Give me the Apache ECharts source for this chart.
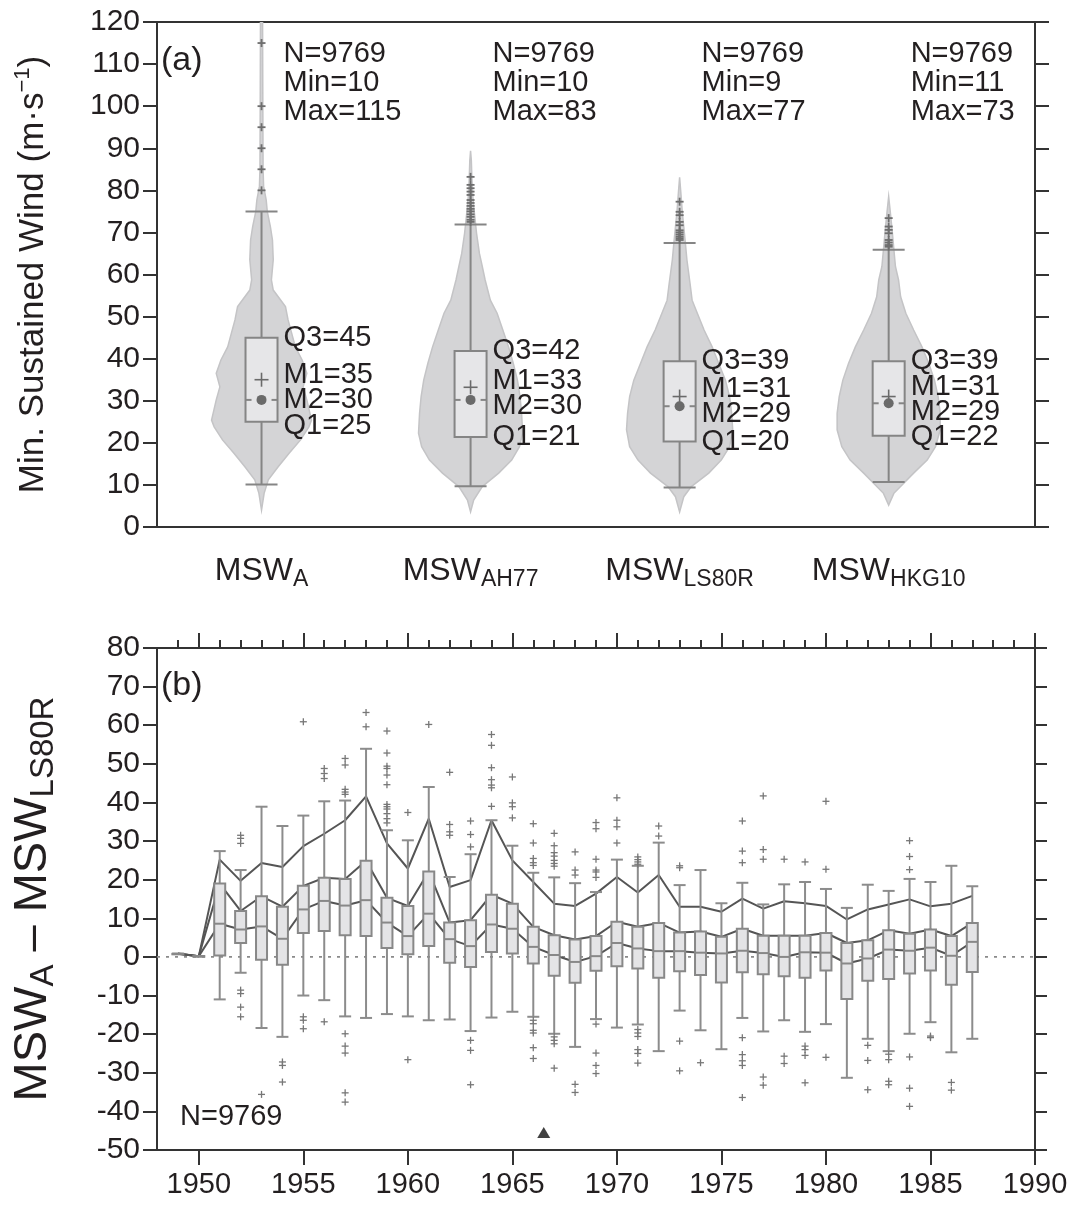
<!DOCTYPE html>
<html><head><meta charset="utf-8">
<script src="https://cdn.jsdelivr.net/npm/echarts@6/dist/echarts.min.js"></script>
<style>html,body{margin:0;padding:0;background:#fff}#c{width:1076px;height:1209px}</style>
</head><body><div id="c"></div>
<script>
const FONT = '"Liberation Sans", Arial, Helvetica, sans-serif';
const TXT = '#231f20';

// ---------- Panel (a) data ----------
const groupSubs = ['A', 'AH77', 'LS80R', 'HKG10'];
const nObs = [9769, 9769, 9769, 9769];
const minVal = [10.1, 9.7, 9.4, 10.7];
const maxVal = [115, 83.2, 77.3, 73.4];
const q1A = [25, 21.4, 20.3, 21.7];
const medianA = [30.2, 30.2, 28.7, 29.4];
const q3A = [45, 41.8, 39.4, 39.4];
const meanA = [35, 33.2, 31.0, 31.0];
const whiskHighA = [75, 71.9, 67.5, 65.9];
const outliersA_MSWA = [115, 100, 95, 90, 85, 80];
const outliersA_AH77 = [83.2, 81.3, 80.5, 79.7, 78.9, 77.7, 77.0, 76.3, 75.6, 75.0, 74.3, 73.7, 73.0, 72.5];
const outliersA_LS80R = [77.3, 74.9, 74.1, 72.5, 71.7, 70.5, 70.0, 69.5, 69.0, 68.6, 68.2];
const outliersA_HKG10 = [73.4, 71.4, 70.6, 69.8, 68.2, 67.6, 67.0, 66.6];
// violin densities: [wind, relative density]
const densMSWA = [[122,0.02],[100,0.025],[85,0.03],[81,0.04],[77.7,0.09],[75,0.11],[71.4,0.17],[68.2,0.21],[63.5,0.225],[58.7,0.19],[56.3,0.225],[52.4,0.46],[49.2,0.51],[46.0,0.58],[42.8,0.65],[39.7,0.78],[36.5,0.87],[33.3,0.80],[30.2,0.87],[27.0,0.93],[25.4,0.96],[23.8,0.91],[20.7,0.75],[17.5,0.53],[14.3,0.32],[11.2,0.13],[8.0,0.05],[4.0,0]];
const densAH77 = [[89.4,0],[87,0.015],[83,0.025],[79,0.04],[75,0.07],[69.8,0.115],[65,0.17],[61.9,0.225],[58.7,0.28],[53.9,0.38],[50.8,0.51],[46.8,0.62],[42.8,0.73],[38.9,0.82],[34.9,0.90],[31,0.95],[27.0,0.98],[22.3,1.0],[19.1,0.94],[15.9,0.79],[12.8,0.54],[9.6,0.225],[6.4,0.06],[3.6,0]];
const densLS80R = [[83.1,0],[80,0.02],[75,0.05],[70,0.09],[67.5,0.11],[63.5,0.14],[57.9,0.2],[53.9,0.24],[50.8,0.34],[46.8,0.47],[42.8,0.625],[38.9,0.75],[34.9,0.88],[31.0,0.96],[27.0,1.0],[23.1,1.02],[19.1,0.96],[15.9,0.80],[12.8,0.56],[9.6,0.225],[7.2,0.08],[3.6,0]];
const densHKG10 = [[78.5,0],[75,0.03],[70,0.07],[65.9,0.1],[61.9,0.13],[58.7,0.19],[54.7,0.23],[50.8,0.33],[46.8,0.48],[42.8,0.64],[38.9,0.77],[34.9,0.88],[31.0,0.95],[27.0,0.99],[23.1,0.99],[19.1,0.9],[15.9,0.74],[12.8,0.48],[10.4,0.29],[8.0,0.1],[5.2,0]];
const yTicksA = [0, 120, 10];

// ---------- Panel (b) data ----------
const years = [1949,1950,1951,1952,1953,1954,1955,1956,1957,1958,1959,1960,1961,1962,1963,1964,1965,1966,1967,1968,1969,1970,1971,1972,1973,1974,1975,1976,1977,1978,1979,1980,1981,1982,1983,1984,1985,1986,1987];
const wLowB = [0.8,0.2,-11.0,-4.1,-18.4,-20.7,-10.0,-11.2,-15.4,-15.8,-14.8,-15.4,-16.4,-16.2,-19.2,-15.7,-14.2,-15.5,-19.9,-23.3,-16.1,-18.3,-17.5,-24.4,-13.9,-19.0,-23.9,-15.8,-19.3,-16.4,-19.4,-17.4,-31.3,-21.2,-24.4,-19.9,-16.9,-24.7,-21.2];
const q1B = [0.8,0.2,0.4,3.6,-0.7,-2.0,6.2,6.7,5.6,5.4,2.3,0.7,2.8,-1.5,-2.6,1.3,0.9,-1.7,-4.9,-6.7,-3.6,-2.4,-3.0,-5.4,-3.7,-4.7,-6.6,-4.0,-4.5,-5.0,-5.4,-3.5,-10.9,-6.2,-5.7,-4.3,-3.5,-7.2,-3.9];
const medB = [0.8,0.2,8.6,7.1,7.9,4.7,12.3,14.5,13.3,14.7,8.9,5.4,11.2,4.6,2.8,8.4,7.3,2.6,0.5,-1.3,0.2,3.6,2.2,1.5,1.5,1.1,0.9,1.6,1.0,0.0,1.2,1.1,-1.7,-0.4,1.9,1.6,2.4,0.3,3.9];
const q3B = [0.8,0.2,19.0,11.9,15.7,13.0,18.4,20.5,20.2,24.9,15.3,13.2,22.1,8.9,9.5,16.1,13.8,7.8,5.6,4.5,5.4,9.1,7.8,8.8,6.3,6.6,5.2,7.3,5.5,5.5,5.5,6.2,3.6,4.3,6.9,6.0,7.1,5.4,8.8];
const wHighB = [0.8,0.2,27.4,22.5,38.9,33.9,36.6,40.3,40.5,53.9,32.8,30.2,44.0,20.7,26.6,35.4,28.8,21.8,20.6,19.1,16.8,25.2,23.6,29.6,18.6,22.5,13.9,19.2,13.6,18.8,19.4,17.6,12.7,18.7,17.1,20.2,19.4,23.6,18.3];
const topLineB = [0.9,0.2,25.2,19.7,24.3,23.3,28.7,31.9,35.4,41.6,29.4,22.9,35.8,18.1,19.9,35.4,25.0,19.4,13.8,13.2,16.4,20.7,16.7,21.2,13.0,13.0,11.7,15.1,12.5,14.4,13.9,13.2,9.7,12.3,13.6,14.9,13.1,13.8,15.8];
const outliersB = [
 [1952,31.5],[1952,30.7],[1952,29.4],[1952,-8.6],[1952,-9.5],[1952,-13.0],[1952,-15.5],
 [1953,-35.6],
 [1954,-27.2],[1954,-28.1],[1954,-32.4],
 [1955,60.9],[1955,-15.5],[1955,-16.4],[1955,-18.6],
 [1956,48.8],[1956,47.5],[1956,46.2],[1956,-16.8],
 [1957,51.4],[1957,49.7],[1957,43.4],[1957,42.7],[1957,42.1],[1957,-19.9],[1957,-23.1],[1957,-24.9],[1957,-35.2],[1957,-37.6],
 [1958,63.3],[1958,59.6],
 [1959,58.5],[1959,52.8],[1959,49.4],[1959,48.8],[1959,47.1],[1959,44.6],[1959,39.5],[1959,38.9],[1959,38.3],[1959,37.1],[1959,35.8],[1959,34.7],
 [1960,37.4],[1960,-26.6],
 [1961,60.2],
 [1962,47.8],[1962,34.3],[1962,32.4],[1962,31.5],
 [1963,35.2],[1963,31.7],[1963,28.5],[1963,-21.6],[1963,-24.2],[1963,-33.1],
 [1964,57.6],[1964,54.8],[1964,49.0],[1964,45.9],[1964,44.5],[1964,43.8],[1964,39.0],
 [1965,46.6],[1965,39.9],[1965,38.9],[1965,36.0],
 [1966,34.5],[1966,29.5],[1966,25.5],[1966,24.4],[1966,23.7],[1966,-16.4],[1966,-17.3],[1966,-19.0],[1966,-19.7],[1966,-23.5],[1966,-26.3],
 [1967,32.0],[1967,28.8],[1967,27.0],[1967,26.1],[1967,25.0],[1967,24.2],[1967,23.5],[1967,-20.7],[1967,-21.6],[1967,-22.5],[1967,-28.8],
 [1968,27.2],[1968,22.5],[1968,21.2],[1968,-33.0],[1968,-35.1],
 [1969,34.8],[1969,33.2],[1969,25.3],[1969,22.5],[1969,22.0],[1969,20.6],[1969,-17.4],[1969,-24.9],[1969,-28.1],[1969,-30.2],
 [1970,41.2],[1970,35.4],[1970,33.7],[1970,29.5],
 [1971,25.9],[1971,25.2],[1971,24.6],[1971,24.0],[1971,-18.8],[1971,-19.7],[1971,-20.6],[1971,-24.0],[1971,-25.0],[1971,-27.5],
 [1972,33.9],[1972,31.3],
 [1973,23.6],[1973,23.1],[1973,-21.8],[1973,-29.5],
 [1974,-27.4],
 [1976,35.2],[1976,27.4],[1976,24.4],[1976,-20.9],[1976,-25.3],[1976,-26.9],[1976,-28.1],[1976,-36.4],
 [1977,41.7],[1977,27.8],[1977,25.3],[1977,-31.1],[1977,-33.2],
 [1978,25.3],[1978,-25.7],[1978,-27.6],
 [1979,24.6],[1979,-23.1],[1979,-24.0],[1979,-25.5],[1979,-32.6],
 [1980,40.3],[1980,22.7],[1980,-26.0],
 [1982,-22.9],[1982,-26.8],[1982,-34.4],
 [1983,-25.2],[1983,-26.6],[1983,-32.2],[1983,-33.1],
 [1984,30.1],[1984,26.0],[1984,22.6],[1984,-25.9],[1984,-34.0],[1984,-38.7],
 [1985,-20.5],[1985,-20.9],
 [1986,-32.5],[1986,-34.5]
];
const markerB = [[1966.5, -45.5]];
const nObsB = 9769;
const majorYears = [1950,1955,1960,1965,1970,1975,1980,1985,1990];
const minorYears = [1949,1950,1951,1952,1953,1954,1955,1956,1957,1958,1959,1960,1961,1962,1963,1964,1965,1966,1967,1968,1969,1970,1971,1972,1973,1974,1975,1976,1977,1978,1979,1980,1981,1982,1983,1984,1985,1986,1987,1988,1989];

// ---------- styles ----------
const VIOLIN_HALF = 0.249;  // x-units per unit density
const BOX_A_PX = 32;
const BOX_B_PX = 11;
const BOXGRAY = '#858585';
const densities = [densMSWA, densAH77, densLS80R, densHKG10];
const outliersAllA = [outliersA_MSWA, outliersA_AH77, outliersA_LS80R, outliersA_HKG10];

function line(x1,y1,x2,y2,stroke,w){return {type:'line',shape:{x1,y1,x2,y2},style:{stroke,lineWidth:w}};}
function plus(p,arm,stroke,w){return {type:'group',children:[line(p[0]-arm,p[1],p[0]+arm,p[1],stroke,w),line(p[0],p[1]-arm,p[0],p[1]+arm,stroke,w)]};}

function layoutLabels(vals, gap){
  const y = vals.slice();
  for (let it=0; it<30; it++){
    for (let k=0;k<y.length-1;k++){
      const d = y[k]-y[k+1];
      if (d < gap){ const s=(gap-d)/2; y[k]+=s; y[k+1]-=s; }
    }
  }
  return y;
}

const chart = echarts.init(document.getElementById('c'));

const axisTickStyle = {color:'#333', width:2};
const noLine = {show:false, onZero:false};

const option = {
  animation:false,
  textStyle:{fontFamily:FONT},
  grid:[
    {left:157, top:22, width:878, height:505, show:true, borderColor:'#333', borderWidth:2, backgroundColor:'transparent', outerBoundsMode:'none', containLabel:false},
    {left:157, top:648, width:878, height:502, show:true, borderColor:'#333', borderWidth:2, backgroundColor:'transparent', outerBoundsMode:'none', containLabel:false}
  ],
  xAxis:[
    {gridIndex:0, type:'value', min:0.5, max:4.7, axisLine:noLine, axisTick:{show:false}, splitLine:{show:false},
     axisLabel:{customValues:[1,2,3,4], margin:24, formatter:(v)=>'{m|MSW}{s|'+groupSubs[Math.round(v)-1]+'}',
       rich:{m:{fontSize:32,fontFamily:FONT,color:TXT,lineHeight:40},s:{fontSize:23,fontFamily:FONT,color:TXT,lineHeight:20,verticalAlign:'bottom'}}}},
    {gridIndex:1, type:'value', min:1948, max:1990, axisLine:noLine, splitLine:{show:false},
     axisTick:{customValues:majorYears, length:15, lineStyle:axisTickStyle},
     axisLabel:{customValues:majorYears, fontSize:29, color:TXT, margin:20, fontFamily:FONT, formatter:(v)=>String(v)}},
    {gridIndex:1, type:'value', min:1948, max:1990, axisLine:noLine, splitLine:{show:false},
     axisTick:{customValues:minorYears, length:8, lineStyle:axisTickStyle}, axisLabel:{show:false}},
    {gridIndex:1, type:'value', position:'top', min:1948, max:1990, axisLine:noLine, splitLine:{show:false},
     axisTick:{customValues:majorYears, length:15, lineStyle:axisTickStyle}, axisLabel:{show:false}},
    {gridIndex:1, type:'value', position:'top', min:1948, max:1990, axisLine:noLine, splitLine:{show:false},
     axisTick:{customValues:minorYears, length:8, lineStyle:axisTickStyle}, axisLabel:{show:false}}
  ],
  yAxis:[
    {gridIndex:0, type:'value', min:yTicksA[0], max:yTicksA[1], interval:yTicksA[2], axisLine:noLine, splitLine:{show:false},
     axisTick:{length:14, lineStyle:axisTickStyle}, axisLabel:{fontSize:30, color:TXT, margin:17, fontFamily:FONT},
     name:'{m|Min. Sustained Wind (m·s}{p|−1}{m|)}', nameLocation:'middle', nameGap:103, nameRotate:90,
     nameTextStyle:{rich:{m:{fontSize:35,fontFamily:FONT,color:TXT,lineHeight:42},p:{fontSize:22,fontFamily:FONT,color:TXT,lineHeight:20,verticalAlign:'top'}}}},
    {gridIndex:0, type:'value', position:'right', min:yTicksA[0], max:yTicksA[1], interval:yTicksA[2], axisLine:noLine, splitLine:{show:false},
     axisTick:{length:14, lineStyle:axisTickStyle}, axisLabel:{show:false}},
    {gridIndex:1, type:'value', min:-50, max:80, interval:10, axisLine:noLine, splitLine:{show:false},
     axisTick:{length:14, lineStyle:axisTickStyle}, axisLabel:{fontSize:30, color:TXT, margin:17, fontFamily:FONT},
     name:'{m|MSW}{s|A}{m| – MSW}{s|LS80R}', nameLocation:'middle', nameGap:97, nameRotate:90,
     nameTextStyle:{rich:{m:{fontSize:47,fontFamily:FONT,color:TXT,lineHeight:54},s:{fontSize:33,fontFamily:FONT,color:TXT,lineHeight:24,verticalAlign:'bottom'}}}},
    {gridIndex:1, type:'value', position:'right', min:-50, max:80, interval:10, axisLine:noLine, splitLine:{show:false},
     axisTick:{length:12, lineStyle:axisTickStyle}, axisLabel:{show:false}}
  ],
  graphic:[
    {type:'text', left:161, top:44, style:{text:'(a)', font:'34px '+FONT, fill:TXT}},
    {type:'text', left:161, top:669, style:{text:'(b)', font:'34px '+FONT, fill:TXT}},
    {type:'text', left:180, top:1102, style:{text:'N='+nObsB, font:'29px '+FONT, fill:TXT}}
  ],
  series:[
    {type:'custom', xAxisIndex:0, yAxisIndex:0, clip:true, z:2,
     data: groupSubs.map((g,i)=>[i+1, 0]),
     renderItem:(params, api)=>{
       const i = api.value(0)-1, cx = i+1;
       const unitPx = api.size([1,0])[0];
       const right=[], left=[];
       densities[i].forEach(([y,d])=>{
         const p = api.coord([cx,y]); const w = d*VIOLIN_HALF*unitPx;
         right.push([p[0]+w,p[1]]); left.push([p[0]-w,p[1]]);
       });
       return {type:'polygon', shape:{points:right.concat(left.reverse())}, style:{fill:'#d4d4d6', stroke:'#c4c4c6', lineWidth:1.5}};
     }},
    {type:'custom', xAxisIndex:0, yAxisIndex:0, z:3,
     data: groupSubs.map((g,i)=>[i+1, q3A[i]]),
     renderItem:(params, api)=>{
       const i = api.value(0)-1, cx = i+1;
       const c = v=>api.coord([cx,v]);
       const h = BOX_A_PX/2;
       const pLo=c(minVal[i]), pQ1=c(q1A[i]), pMed=c(medianA[i]), pQ3=c(q3A[i]), pHi=c(whiskHighA[i]), pMean=c(meanA[i]);
       const x = pQ1[0];
       const ch = [
         line(x,pLo[1],x,pQ1[1],BOXGRAY,2),
         line(x,pQ3[1],x,pHi[1],BOXGRAY,2),
         line(x-h,pLo[1],x+h,pLo[1],BOXGRAY,2),
         line(x-h,pHi[1],x+h,pHi[1],BOXGRAY,2),
         {type:'rect', shape:{x:x-h, y:pQ3[1], width:BOX_A_PX, height:pQ1[1]-pQ3[1]}, style:{fill:'#e6e6e8', stroke:BOXGRAY, lineWidth:2}},
         line(x-h,pMed[1],x-h+6,pMed[1],BOXGRAY,2),
         line(x+h-6,pMed[1],x+h,pMed[1],BOXGRAY,2),
         {type:'circle', shape:{cx:x, cy:pMed[1], r:5}, style:{fill:'#6a6a6a'}},
         plus(pMean,7,'#6a6a6a',1.6)
       ];
       const labs = layoutLabels([q3A[i], meanA[i], medianA[i], q1A[i]], 6);
       const names = ['Q3','M1','M2','Q1'];
       const vals = [q3A[i], meanA[i], medianA[i], q1A[i]];
       names.forEach((nm,k)=>{
         const p = c(labs[k]);
         ch.push({type:'text', x:x+h+6, y:p[1], style:{text:nm+'='+Math.round(vals[k]), font:'29px '+FONT, fill:TXT, textVerticalAlign:'middle'}});
       });
       const top = c(yTicksA[1]);
       ch.push({type:'text', x:x+h+6, y:top[1]+17, style:{text:'N='+nObs[i]+'\nMin='+Math.round(minVal[i])+'\nMax='+Math.round(maxVal[i]), font:'29px '+FONT, fill:TXT, lineHeight:29.3, textVerticalAlign:'top'}});
       return {type:'group', children:ch};
     }},
    {type:'custom', xAxisIndex:0, yAxisIndex:0, z:4,
     data: outliersAllA.flatMap((arr,i)=>arr.map(v=>[i+1,v])),
     renderItem:(params, api)=>plus(api.coord([api.value(0),api.value(1)]),4,'#6e6e6e',1.8)},
    {type:'line', xAxisIndex:1, yAxisIndex:2, data:[[1948,0],[1990,0]], symbol:'none', z:1,
     lineStyle:{color:'#8a8a8a', width:1.6, type:[3,6]}, silent:true},
    {type:'line', xAxisIndex:1, yAxisIndex:2, data:years.map((y,i)=>[y,topLineB[i]]), symbol:'none', z:2, lineStyle:{color:'#555', width:2}},
    {type:'line', xAxisIndex:1, yAxisIndex:2, data:years.map((y,i)=>[y,q3B[i]]), symbol:'none', z:2, lineStyle:{color:'#555', width:2}},
    {type:'line', xAxisIndex:1, yAxisIndex:2, data:years.map((y,i)=>[y,medB[i]]), symbol:'none', z:2, lineStyle:{color:'#555', width:2}},
    {type:'custom', xAxisIndex:1, yAxisIndex:2, z:3,
     data: years.map((y,i)=>[y,wLowB[i],q1B[i],medB[i],q3B[i],wHighB[i]]),
     renderItem:(params, api)=>{
       const yr = api.value(0);
       const c = v=>api.coord([yr,v]);
       const pLo=c(api.value(1)), pQ1=c(api.value(2)), pMed=c(api.value(3)), pQ3=c(api.value(4)), pHi=c(api.value(5));
       const x = pLo[0], h = BOX_B_PX/2;
       return {type:'group', children:[
         line(x,pLo[1],x,pHi[1],'#8c8c8c',2),
         line(x-h-0.5,pLo[1],x+h+0.5,pLo[1],'#8c8c8c',2),
         line(x-h-0.5,pHi[1],x+h+0.5,pHi[1],'#8c8c8c',2),
         {type:'rect', shape:{x:x-h, y:pQ3[1], width:BOX_B_PX, height:Math.max(pQ1[1]-pQ3[1],0.5)}, style:{fill:'#e4e4e6', stroke:'#888', lineWidth:2}},
         line(x-h,pMed[1],x+h,pMed[1],'#888',2)
       ]};
     }},
    {type:'custom', xAxisIndex:1, yAxisIndex:2, z:4, data:outliersB,
     renderItem:(params, api)=>plus(api.coord([api.value(0),api.value(1)]),3.5,'#777',1.3)},
    {type:'scatter', xAxisIndex:1, yAxisIndex:2, data:markerB, symbol:'triangle', symbolSize:[13,11], itemStyle:{color:'#111'}, z:5}
  ]
};
chart.setOption(option);
</script>
</body></html>
